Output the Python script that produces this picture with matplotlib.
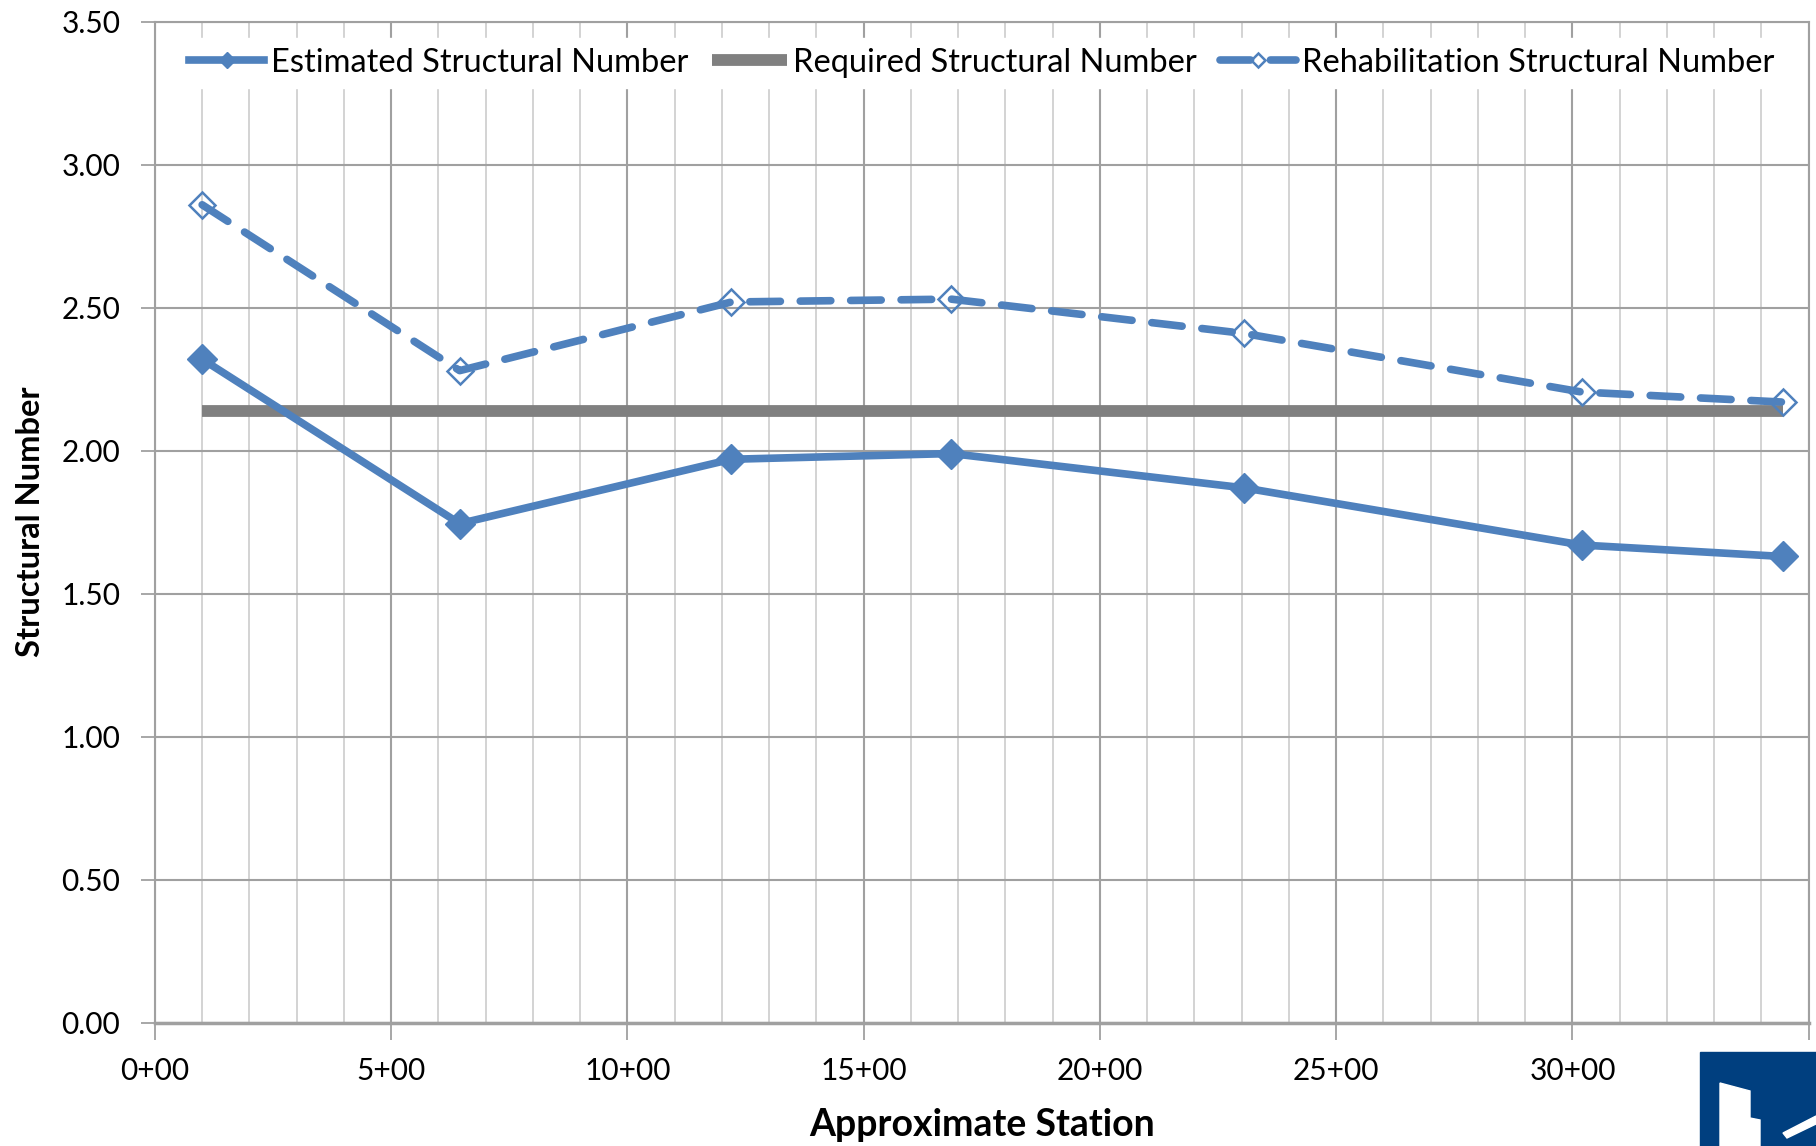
import matplotlib
matplotlib.use("Agg")
import matplotlib.pyplot as plt
from matplotlib.patches import Rectangle, Polygon
from matplotlib.ticker import MultipleLocator

# station (hundreds of feet) and structural numbers
stations = [1.0, 6.45, 12.2, 16.85, 23.05, 30.2, 34.45]
estimated_sn = [2.32, 1.745, 1.97, 1.99, 1.87, 1.67, 1.63]
rehab_sn = [2.86, 2.28, 2.52, 2.53, 2.41, 2.205, 2.17]
required_sn = [2.14] * len(stations)

x_ticks = [0, 5, 10, 15, 20, 25, 30, 35]
x_labels = ["0+00", "5+00", "10+00", "15+00", "20+00", "25+00", "30+00", ""]
y_ticks = [0.0, 0.5, 1.0, 1.5, 2.0, 2.5, 3.0, 3.5]
y_labels = ["%.2f" % v for v in y_ticks]

blue = "#4F81BD"
gray = "#808080"

plt.rcParams["font.family"] = ["Lato", "DejaVu Sans"]


def main():
    fig = plt.figure(figsize=(18.16, 11.46), dpi=100)
    ax = fig.add_axes([0.0853, 0.1077, 0.9107, 0.8733])

    ax.set_xlim(0, 35)
    ax.set_ylim(0, 3.5)

    # excel style grid: light minor verticals, darker majors
    ax.xaxis.set_minor_locator(MultipleLocator(1))
    ax.grid(which="minor", axis="x", color="#CCCCCC", lw=1.2)
    ax.grid(which="major", axis="both", color="#A0A0A0", lw=1.5)
    ax.set_axisbelow(True)

    for s in ax.spines.values():
        s.set_color("#A0A0A0")
        s.set_linewidth(1.5)
    ax.spines["bottom"].set_linewidth(2.5)

    ax.set_xticks(x_ticks)
    ax.set_xticklabels(x_labels, fontsize=21.5)
    ax.set_yticks(y_ticks)
    ax.set_yticklabels(y_labels, fontsize=21.5)
    ax.tick_params(axis="x", which="major", direction="out", length=12, width=1.3,
                   color="#A0A0A0", pad=13)
    ax.tick_params(axis="x", which="minor", length=0)
    ax.tick_params(axis="y", direction="out", length=10, width=1.3,
                   color="#A0A0A0", pad=15)

    ax.plot(stations, estimated_sn, color=blue, lw=5.5, marker="D", ms=15,
            mec=blue, mfc=blue, label="Estimated Structural Number", zorder=3)
    ax.plot(stations, required_sn, color=gray, lw=8.5, solid_capstyle="butt",
            label="Required Structural Number", zorder=2)
    ax.plot(stations, rehab_sn, color=blue, lw=5.5, ls=(0, (4.0, 2.6)),
            dash_capstyle="round", marker="D", ms=13.5, mfc="none", mec=blue,
            mew=1.8, label="Rehabilitation Structural Number", zorder=3)

    leg = ax.legend(loc="upper center", bbox_to_anchor=(0.5, 1.0), ncol=3,
                    fontsize=23.5, frameon=True, handlelength=2.3, handletextpad=0.2,
                    columnspacing=0.72, borderpad=0.3, markerscale=0.55)
    leg.get_frame().set_edgecolor("white")
    leg.get_frame().set_facecolor("white")
    leg.get_frame().set_alpha(1.0)

    ax.set_xlabel("Approximate Station", fontsize=27, fontweight="bold", labelpad=16)
    ax.set_ylabel("Structural Number", fontsize=23.5, fontweight="bold", labelpad=12)

    # corner logo
    fig.add_artist(Rectangle((1700 / 1816, 0), 116 / 1816, 94 / 1146,
                             transform=fig.transFigure, color="#003F7F", zorder=5))
    bld = [(1720, 1146), (1720, 1083), (1750, 1091), (1750, 1118), (1760, 1120),
           (1760, 1146)]
    roof = [(1783, 1133), (1816, 1116), (1816, 1124), (1787, 1138)]
    for pts in (bld, roof):
        fig.add_artist(Polygon([(x / 1816, 1 - y / 1146) for x, y in pts],
                               closed=True, transform=fig.transFigure,
                               color="white", zorder=6))

    fig.savefig("out.png", dpi=100)


if __name__ == "__main__":
    main()
